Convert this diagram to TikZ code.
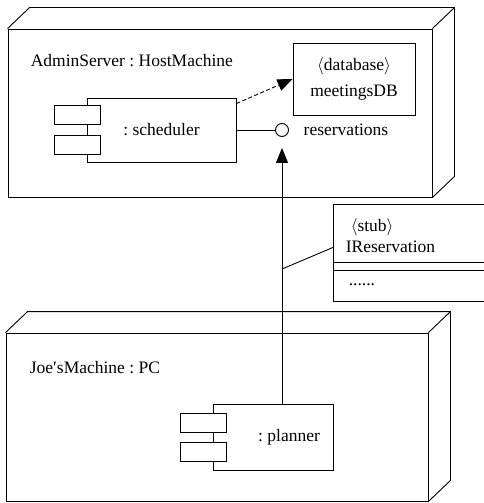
\documentclass[tikz,border=0pt]{standalone}
\usepackage{fontspec}
\setmainfont{Liberation Serif}
\usetikzlibrary{arrows.meta,positioning}

\begin{document}
\begin{tikzpicture}[x=1pt,y=-1pt,line width=.9pt,font=\fontsize{17.5}{26}\selectfont,>={Triangle[length=15pt,width=12pt]},
  front/.style={draw,minimum width=#1,minimum height=168pt,inner sep=0pt},
  comp/.style={draw,minimum height=#1,inner sep=0pt},
  port/.style={draw,fill=white,minimum width=46pt,minimum height=19pt,inner sep=0pt}]
\useasboundingbox (0,0) rectangle (483,503);
\node[front=424pt] (admin) at (220,113) {};
\node[front=422pt] (joe) at (217,417) {};
\foreach \n in {admin,joe}{\draw (\n.north west)--++(22,-21)-|([shift={(22,-21)}]\n.south east)--(\n.south east) (\n.north east)--++(22,-21);}
\node[anchor=west] (adminname) at (27,61) {AdminServer\ :\ HostMachine};
\node[anchor=west] (joename) at (26,368) {Joe′sMachine\ :\ PC};
\node[draw,minimum width=122pt,minimum height=72pt,align=center,inner sep=0pt] (db) at (354,79) {$\langle$database$\rangle$\\meetingsDB};
\node[comp=64pt,minimum width=149pt] (sched) at (161.5,130) {};
\node[port] (schedp1) at ([shift={(-9,-15)}]sched.west) {};
\node[port] (schedp2) at ([shift={(-9,15)}]sched.west) {};
\node (schedname) at (sched.center) {:\ scheduler};
\node[comp=66pt,minimum width=120pt] (plan) at (273,437) {};
\node[port] (planp1) at ([shift={(-9,-14)}]plan.west) {};
\node[port] (planp2) at ([shift={(-9,15)}]plan.west) {};
\node (planname) at ([xshift=16pt]plan.center) {:\ planner};
\node[circle,draw,minimum size=13pt,inner sep=0pt] (iface) at (282,130) {};
\node[right=11pt of iface] (ifacelab) {reservations};
\node[draw,minimum width=152pt,minimum height=97pt,anchor=north west,inner sep=0pt] (stub) at (333,204) {};
\node[anchor=west] (stubtag) at (347,227) {$\langle$stub$\rangle$};
\node[anchor=west] (stubname) at (342,247) {IReservation};
\node[anchor=west] (stubops) at (345,285) {......};
\coordinate (sep1) at (333,262); \coordinate (sep2) at (333,270);
\draw (sep1)--(sep1-|stub.east) (sep2)--(sep2-|stub.east);
\draw[dash pattern=on 4pt off 2.5pt,->] ([yshift=-6pt]sched.north east)--(db.west);
\draw (sched.east)--(iface);
\draw[->] (iface|-plan.north)--([yshift=-11pt]iface.south);
\coordinate (stubfoot) at (282,269);
\draw (stubfoot)--([yshift=5.5pt]stub.west);
\end{tikzpicture}
\end{document}
